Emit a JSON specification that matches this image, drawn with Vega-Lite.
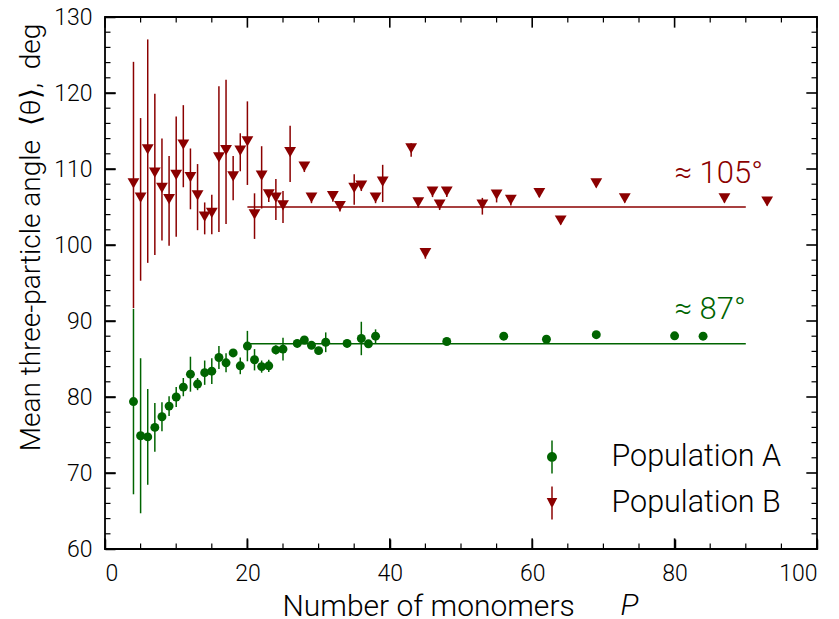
{
  "$schema": "https://vega.github.io/schema/vega-lite/v6.json",
  "autosize": {"type": "none"},
  "padding": {"left": 105, "top": 17, "right": 22, "bottom": 70},
  "width": 712,
  "height": 532,
  "background": "white",
  "datasets": {
    "points": [
      {"series": "Population A", "P": 4, "angle": 79.4, "err": 12.2},
      {"series": "Population A", "P": 5, "angle": 74.9, "err": 10.2},
      {"series": "Population A", "P": 6, "angle": 74.75, "err": 6.3},
      {"series": "Population A", "P": 7, "angle": 76.0, "err": 3.2},
      {"series": "Population A", "P": 8, "angle": 77.4, "err": 1.9},
      {"series": "Population A", "P": 9, "angle": 78.8, "err": 1.3},
      {"series": "Population A", "P": 10, "angle": 80.0, "err": 1.3},
      {"series": "Population A", "P": 11, "angle": 81.3, "err": 1.2},
      {"series": "Population A", "P": 12, "angle": 83.0, "err": 2.3},
      {"series": "Population A", "P": 13, "angle": 81.7, "err": 0.8},
      {"series": "Population A", "P": 14, "angle": 83.2, "err": 1.6},
      {"series": "Population A", "P": 15, "angle": 83.4, "err": 1.7},
      {"series": "Population A", "P": 16, "angle": 85.2, "err": 1.5},
      {"series": "Population A", "P": 17, "angle": 84.5, "err": 1.25},
      {"series": "Population A", "P": 18, "angle": 85.8, "err": 0.5},
      {"series": "Population A", "P": 19, "angle": 84.1, "err": 1.1},
      {"series": "Population A", "P": 20, "angle": 86.7, "err": 2.0},
      {"series": "Population A", "P": 21, "angle": 84.9, "err": 1.4},
      {"series": "Population A", "P": 22, "angle": 84.0, "err": 0.8},
      {"series": "Population A", "P": 23, "angle": 84.1, "err": 0.8},
      {"series": "Population A", "P": 24, "angle": 86.2, "err": 0.6},
      {"series": "Population A", "P": 25, "angle": 86.3, "err": 1.5},
      {"series": "Population A", "P": 27, "angle": 87.05, "err": 0.5},
      {"series": "Population A", "P": 28, "angle": 87.5, "err": 0.5},
      {"series": "Population A", "P": 29, "angle": 86.8, "err": 0.5},
      {"series": "Population A", "P": 30, "angle": 86.1, "err": 0.5},
      {"series": "Population A", "P": 31, "angle": 87.2, "err": 1.3},
      {"series": "Population A", "P": 34, "angle": 87.05, "err": 0.5},
      {"series": "Population A", "P": 36, "angle": 87.7, "err": 2.2},
      {"series": "Population A", "P": 37, "angle": 87.0, "err": 0.5},
      {"series": "Population A", "P": 38, "angle": 88.0, "err": 0.9},
      {"series": "Population A", "P": 48, "angle": 87.3, "err": 0.3},
      {"series": "Population A", "P": 56, "angle": 88.0, "err": 0.3},
      {"series": "Population A", "P": 62, "angle": 87.6, "err": 0.3},
      {"series": "Population A", "P": 69, "angle": 88.2, "err": 0.3},
      {"series": "Population A", "P": 80, "angle": 88.05, "err": 0.3},
      {"series": "Population A", "P": 84, "angle": 88.0, "err": 0.3},
      {"series": "Population B", "P": 4, "angle": 107.9, "err": 16.2},
      {"series": "Population B", "P": 5, "angle": 106.0, "err": 10.7},
      {"series": "Population B", "P": 6, "angle": 112.35, "err": 14.7},
      {"series": "Population B", "P": 7, "angle": 109.3, "err": 10.6},
      {"series": "Population B", "P": 8, "angle": 107.3, "err": 6.7},
      {"series": "Population B", "P": 9, "angle": 105.8, "err": 5.9},
      {"series": "Population B", "P": 10, "angle": 109.0, "err": 7.9},
      {"series": "Population B", "P": 11, "angle": 113.0, "err": 5.4},
      {"series": "Population B", "P": 12, "angle": 108.7, "err": 4.0},
      {"series": "Population B", "P": 13, "angle": 106.3, "err": 4.35},
      {"series": "Population B", "P": 14, "angle": 103.5, "err": 2.1},
      {"series": "Population B", "P": 15, "angle": 104.0, "err": 2.6},
      {"series": "Population B", "P": 16, "angle": 111.3, "err": 9.6},
      {"series": "Population B", "P": 17, "angle": 112.25, "err": 9.5},
      {"series": "Population B", "P": 18, "angle": 108.8, "err": 2.9},
      {"series": "Population B", "P": 19, "angle": 112.2, "err": 2.5},
      {"series": "Population B", "P": 20, "angle": 113.4, "err": 5.5},
      {"series": "Population B", "P": 21, "angle": 103.8, "err": 3.0},
      {"series": "Population B", "P": 22, "angle": 108.9, "err": 4.1},
      {"series": "Population B", "P": 23, "angle": 106.45, "err": 0.8},
      {"series": "Population B", "P": 24, "angle": 106.0, "err": 2.7},
      {"series": "Population B", "P": 25, "angle": 105.0, "err": 2.1},
      {"series": "Population B", "P": 26, "angle": 112.0, "err": 3.7},
      {"series": "Population B", "P": 28, "angle": 110.1, "err": 0.5},
      {"series": "Population B", "P": 29, "angle": 106.0, "err": 0.5},
      {"series": "Population B", "P": 32, "angle": 106.2, "err": 0.5},
      {"series": "Population B", "P": 33, "angle": 104.9, "err": 0.5},
      {"series": "Population B", "P": 35, "angle": 107.3, "err": 2.0},
      {"series": "Population B", "P": 36, "angle": 107.6, "err": 0.5},
      {"series": "Population B", "P": 38, "angle": 106.0, "err": 0.5},
      {"series": "Population B", "P": 39, "angle": 108.1, "err": 2.45},
      {"series": "Population B", "P": 43, "angle": 112.5, "err": 0.9},
      {"series": "Population B", "P": 44, "angle": 105.4, "err": 0.5},
      {"series": "Population B", "P": 45, "angle": 98.7, "err": 0.5},
      {"series": "Population B", "P": 46, "angle": 106.8, "err": 0.5},
      {"series": "Population B", "P": 47, "angle": 105.1, "err": 0.5},
      {"series": "Population B", "P": 48, "angle": 106.8, "err": 0.5},
      {"series": "Population B", "P": 53, "angle": 105.1, "err": 1.1},
      {"series": "Population B", "P": 55, "angle": 106.4, "err": 0.8},
      {"series": "Population B", "P": 57, "angle": 105.7, "err": 0.5},
      {"series": "Population B", "P": 61, "angle": 106.6, "err": 0.3},
      {"series": "Population B", "P": 64, "angle": 103.0, "err": 0.3},
      {"series": "Population B", "P": 69, "angle": 107.9, "err": 0.3},
      {"series": "Population B", "P": 73, "angle": 105.9, "err": 0.3},
      {"series": "Population B", "P": 87, "angle": 105.9, "err": 0.3},
      {"series": "Population B", "P": 93, "angle": 105.5, "err": 0.3}
    ],
    "fits": [
      {"series": "Population A", "from": 20, "to": 90, "level": 87},
      {"series": "Population B", "from": 20, "to": 90, "level": 105}
    ],
    "xticks": [
      {"P": 0, "kind": "major"}, {"P": 20, "kind": "major"}, {"P": 40, "kind": "major"},
      {"P": 60, "kind": "major"}, {"P": 80, "kind": "major"}, {"P": 100, "kind": "major"},
      {"P": 5, "kind": "minor"}, {"P": 10, "kind": "minor"}, {"P": 15, "kind": "minor"},
      {"P": 25, "kind": "minor"}, {"P": 30, "kind": "minor"}, {"P": 35, "kind": "minor"},
      {"P": 45, "kind": "minor"}, {"P": 50, "kind": "minor"}, {"P": 55, "kind": "minor"},
      {"P": 65, "kind": "minor"}, {"P": 70, "kind": "minor"}, {"P": 75, "kind": "minor"},
      {"P": 85, "kind": "minor"}, {"P": 90, "kind": "minor"}, {"P": 95, "kind": "minor"}
    ],
    "yticks": [
      {"angle": 60, "kind": "major"}, {"angle": 70, "kind": "major"}, {"angle": 80, "kind": "major"},
      {"angle": 90, "kind": "major"}, {"angle": 100, "kind": "major"}, {"angle": 110, "kind": "major"},
      {"angle": 120, "kind": "major"}, {"angle": 130, "kind": "major"},
      {"angle": 62, "kind": "minor"}, {"angle": 64, "kind": "minor"}, {"angle": 66, "kind": "minor"}, {"angle": 68, "kind": "minor"},
      {"angle": 72, "kind": "minor"}, {"angle": 74, "kind": "minor"}, {"angle": 76, "kind": "minor"}, {"angle": 78, "kind": "minor"},
      {"angle": 82, "kind": "minor"}, {"angle": 84, "kind": "minor"}, {"angle": 86, "kind": "minor"}, {"angle": 88, "kind": "minor"},
      {"angle": 92, "kind": "minor"}, {"angle": 94, "kind": "minor"}, {"angle": 96, "kind": "minor"}, {"angle": 98, "kind": "minor"},
      {"angle": 102, "kind": "minor"}, {"angle": 104, "kind": "minor"}, {"angle": 106, "kind": "minor"}, {"angle": 108, "kind": "minor"},
      {"angle": 112, "kind": "minor"}, {"angle": 114, "kind": "minor"}, {"angle": 116, "kind": "minor"}, {"angle": 118, "kind": "minor"},
      {"angle": 122, "kind": "minor"}, {"angle": 124, "kind": "minor"}, {"angle": 126, "kind": "minor"}, {"angle": 128, "kind": "minor"}
    ]
  },
  "resolve": {"axis": {"x": "independent", "y": "independent"}},
  "layer": [
    {
      "data": {"name": "points"},
      "transform": [{"filter": "datum.series === 'Population A'"}],
      "mark": {"type": "errorbar", "ticks": false, "thickness": 1.5, "color": "#006400"},
      "encoding": {
        "x": {
          "field": "P", "type": "quantitative",
          "scale": {"domain": [0, 100], "nice": false, "zero": false},
          "axis": {
            "orient": "bottom", "values": [0, 20, 40, 60, 80, 100],
            "offset": -10, "ticks": true, "tickSize": 10, "tickWidth": 1.5, "tickColor": "#000000",
            "labelPadding": 13, "labelFontSize": 23, "titleFontSize": 30,
            "title": "Number of monomers",
            "titleBaseline": "alphabetic", "titleAlign": "left", "titleAnchor": "start", "titleX": 177, "titleY": 76
          }
        },
        "y": {
          "field": "angle", "type": "quantitative",
          "scale": {"domain": [60, 130], "nice": false, "zero": false},
          "axis": {
            "orient": "left", "values": [60, 70, 80, 90, 100, 110, 120, 130],
            "offset": -10, "ticks": true, "tickSize": 10, "tickWidth": 1.5, "tickColor": "#000000",
            "labelPadding": 13, "labelFontSize": 23, "titleFontSize": 28,
            "title": "Mean three-particle angle\u00a0\u00a0\u27e8\u03b8\u27e9,\u00a0\u00a0deg",
            "titleBaseline": "alphabetic", "titleX": -76, "titleY": 220, "titleAngle": -90
          }
        },
        "yError": {"field": "err"}
      }
    },
    {
      "data": {"name": "points"},
      "transform": [{"filter": "datum.series === 'Population B'"}],
      "mark": {"type": "errorbar", "ticks": false, "thickness": 1.5, "color": "#8b0000"},
      "encoding": {
        "x": {"field": "P", "type": "quantitative", "axis": null},
        "y": {"field": "angle", "type": "quantitative", "axis": null},
        "yError": {"field": "err"}
      }
    },
    {
      "data": {"name": "fits"},
      "transform": [{"filter": "datum.series === 'Population A'"}],
      "mark": {"type": "rule", "strokeWidth": 1.5, "color": "#006400"},
      "encoding": {
        "x": {"field": "from", "type": "quantitative", "axis": null},
        "x2": {"field": "to"},
        "y": {"field": "level", "type": "quantitative", "axis": null}
      }
    },
    {
      "data": {"name": "fits"},
      "transform": [{"filter": "datum.series === 'Population B'"}],
      "mark": {"type": "rule", "strokeWidth": 1.5, "color": "#8b0000"},
      "encoding": {
        "x": {"field": "from", "type": "quantitative", "axis": null},
        "x2": {"field": "to"},
        "y": {"field": "level", "type": "quantitative", "axis": null}
      }
    },
    {
      "data": {"name": "points"},
      "transform": [{"filter": "datum.series === 'Population A'"}],
      "mark": {"type": "point", "shape": "circle", "filled": true, "opacity": 1, "size": 80, "color": "#006400"},
      "encoding": {
        "x": {"field": "P", "type": "quantitative", "axis": null},
        "y": {"field": "angle", "type": "quantitative", "axis": null}
      }
    },
    {
      "data": {"name": "points"},
      "transform": [{"filter": "datum.series === 'Population B'"}],
      "mark": {"type": "point", "shape": "triangle-down", "filled": true, "opacity": 1, "size": 140, "yOffset": -1.7, "color": "#8b0000"},
      "encoding": {
        "x": {"field": "P", "type": "quantitative", "axis": null},
        "y": {"field": "angle", "type": "quantitative", "axis": null}
      }
    },
    {
      "data": {"name": "xticks"},
      "transform": [{"filter": "datum.kind === 'major'"}],
      "mark": {"type": "rule", "strokeWidth": 1.6, "color": "black"},
      "encoding": {
        "x": {"field": "P", "type": "quantitative", "axis": null},
        "y": {"datum": 60, "type": "quantitative", "axis": null},
        "y2": {"datum": 61.4}
      }
    },
    {
      "data": {"name": "xticks"},
      "transform": [{"filter": "datum.kind === 'minor'"}],
      "mark": {"type": "rule", "strokeWidth": 1.2, "color": "black"},
      "encoding": {
        "x": {"field": "P", "type": "quantitative", "axis": null},
        "y": {"datum": 60, "type": "quantitative", "axis": null},
        "y2": {"datum": 60.72}
      }
    },
    {
      "data": {"name": "xticks"},
      "transform": [{"filter": "datum.kind === 'major'"}],
      "mark": {"type": "rule", "strokeWidth": 1.6, "color": "black"},
      "encoding": {
        "x": {"field": "P", "type": "quantitative", "axis": null},
        "y": {"datum": 130, "type": "quantitative", "axis": null},
        "y2": {"datum": 128.6}
      }
    },
    {
      "data": {"name": "xticks"},
      "transform": [{"filter": "datum.kind === 'minor'"}],
      "mark": {"type": "rule", "strokeWidth": 1.2, "color": "black"},
      "encoding": {
        "x": {"field": "P", "type": "quantitative", "axis": null},
        "y": {"datum": 130, "type": "quantitative", "axis": null},
        "y2": {"datum": 129.28}
      }
    },
    {
      "data": {"name": "yticks"},
      "transform": [{"filter": "datum.kind === 'major'"}],
      "mark": {"type": "rule", "strokeWidth": 1.6, "color": "black"},
      "encoding": {
        "x": {"datum": 0, "type": "quantitative", "axis": null},
        "x2": {"datum": 1.5},
        "y": {"field": "angle", "type": "quantitative", "axis": null}
      }
    },
    {
      "data": {"name": "yticks"},
      "transform": [{"filter": "datum.kind === 'minor'"}],
      "mark": {"type": "rule", "strokeWidth": 1.2, "color": "black"},
      "encoding": {
        "x": {"datum": 0, "type": "quantitative", "axis": null},
        "x2": {"datum": 0.77},
        "y": {"field": "angle", "type": "quantitative", "axis": null}
      }
    },
    {
      "data": {"name": "yticks"},
      "transform": [{"filter": "datum.kind === 'major'"}],
      "mark": {"type": "rule", "strokeWidth": 1.6, "color": "black"},
      "encoding": {
        "x": {"datum": 100, "type": "quantitative", "axis": null},
        "x2": {"datum": 98.5},
        "y": {"field": "angle", "type": "quantitative", "axis": null}
      }
    },
    {
      "data": {"name": "yticks"},
      "transform": [{"filter": "datum.kind === 'minor'"}],
      "mark": {"type": "rule", "strokeWidth": 1.2, "color": "black"},
      "encoding": {
        "x": {"datum": 100, "type": "quantitative", "axis": null},
        "x2": {"datum": 99.23},
        "y": {"field": "angle", "type": "quantitative", "axis": null}
      }
    },
    {
      "data": {"name": "points"},
      "mark": {"type": "point", "filled": true, "opacity": 1, "clip": true, "yOffset": 5000},
      "encoding": {
        "x": {"field": "P", "type": "quantitative", "axis": null},
        "y": {"field": "angle", "type": "quantitative", "axis": null},
        "color": {
          "field": "series", "type": "nominal",
          "scale": {"domain": ["Population A", "Population B"], "range": ["#006400", "#8b0000"]},
          "legend": {
            "title": null, "orient": "none", "legendX": 430.5, "legendY": 423.5,
            "padding": 0, "symbolSize": 1089, "symbolStrokeWidth": 0, "symbolOpacity": 1,
            "labelFontSize": 30.5, "labelFont": "Roboto", "labelFontWeight": 300, "labelColor": "black",
            "labelOffset": 43, "rowPadding": 13, "labelLimit": 300
          }
        },
        "shape": {
          "field": "series", "type": "nominal",
          "scale": {
            "domain": ["Population A", "Population B"],
            "range": [
              "M-0.045,-1L0.045,-1L0.045,1L-0.045,1Z M-0.3,0A0.3,0.3 0 1,1 0.3,0A0.3,0.3 0 1,1 -0.3,0Z",
              "M-0.045,-1L0.045,-1L0.045,1L-0.045,1Z M-0.32,-0.3L0.32,-0.3L0,0.32Z"
            ]
          },
          "legend": {
            "title": null, "orient": "none", "legendX": 430.5, "legendY": 423.5,
            "padding": 0, "symbolSize": 1089, "symbolStrokeWidth": 0, "symbolOpacity": 1,
            "labelFontSize": 30.5, "labelFont": "Roboto", "labelFontWeight": 300, "labelColor": "black",
            "labelOffset": 43, "rowPadding": 13, "labelLimit": 300
          }
        }
      }
    },
    {
      "data": {"values": [{}]},
      "mark": {"type": "text", "text": "P", "align": "left", "baseline": "alphabetic", "fontSize": 30, "font": "Roboto", "fontWeight": 300, "fontStyle": "italic", "color": "black", "clip": false},
      "encoding": {
        "x": {"datum": 72.4, "type": "quantitative", "axis": null},
        "y": {"datum": 51.3, "type": "quantitative", "axis": null}
      }
    },
    {
      "data": {"values": [{}]},
      "mark": {"type": "text", "text": "\u2248 105\u00b0", "align": "left", "baseline": "alphabetic", "fontSize": 31, "font": "Roboto", "fontWeight": 300, "color": "#8b0000"},
      "encoding": {
        "x": {"datum": 80, "type": "quantitative", "axis": null},
        "y": {"datum": 108.2, "type": "quantitative", "axis": null}
      }
    },
    {
      "data": {"values": [{}]},
      "mark": {"type": "text", "text": "\u2248 87\u00b0", "align": "left", "baseline": "alphabetic", "fontSize": 31, "font": "Roboto", "fontWeight": 300, "color": "#006400"},
      "encoding": {
        "x": {"datum": 80, "type": "quantitative", "axis": null},
        "y": {"datum": 90.2, "type": "quantitative", "axis": null}
      }
    }
  ],
  "config": {
    "font": "Roboto",
    "view": {"stroke": "black", "strokeWidth": 1.8},
    "axis": {
      "domain": false, "grid": false, "zindex": 1,
      "tickColor": "black", "labelColor": "black", "titleColor": "black",
      "labelFont": "Roboto", "titleFont": "Roboto",
      "labelFontWeight": 300, "titleFontWeight": 300
    }
  }
}
